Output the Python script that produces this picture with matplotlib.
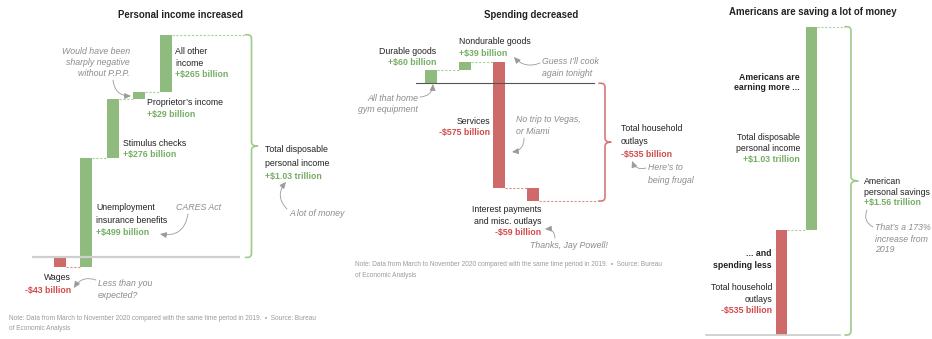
import matplotlib
matplotlib.use("Agg")
import matplotlib.pyplot as plt
import numpy as np
from matplotlib.path import Path
from matplotlib.patches import PathPatch, FancyArrowPatch

# ---- data (billions of dollars, March-November 2020 vs. same period 2019) ----
income_labels = ["Wages", "Unemployment insurance benefits", "Stimulus checks",
                 "Proprietor's income", "All other income"]
income_values = [-43, 499, 276, 29, 265]

spending_labels = ["Durable goods", "Nondurable goods", "Services",
                   "Interest payments and misc. outlays"]
spending_values = [60, 39, -575, -59]

savings_labels = ["Total household outlays", "Total disposable personal income"]
savings_values = [535, 1030]          # outlays cut, income gain
savings_total = 1.56                  # trillion

W, H, DPI = 932, 339, 100
plt.rcParams["font.family"] = ["Liberation Sans", "DejaVu Sans"]
fig = plt.figure(figsize=(W / DPI, H / DPI), dpi=DPI)
fig.patch.set_facecolor("white")

GREEN = "#8fbc7e"
RED = "#cf6a6b"
GREEN_TXT = "#74ad63"
RED_TXT = "#d2494c"
DARK = "#222222"
GRAY_TXT = "#8c8c8c"
NOTE_TXT = "#9a9a9a"
BRACE_G = "#9ccb8c"
BRACE_R = "#d9787a"
DOT_G = "#a9d09b"
DOT_R = "#e08c8d"

LABEL = 6.3
TITLE = 6.9
NOTE = 4.7


def make_axes(x0, dx, zero_y, scale):
    """Full-figure axes: category i sits at pixel x0 + i*dx, value 0 at zero_y."""
    ax = fig.add_axes([0, 0, 1, 1])
    ax.set_xlim(-x0 / dx, (W - x0) / dx)
    ax.set_ylim((zero_y - H) / scale, zero_y / scale)
    ax.axis("off")
    ax.patch.set_alpha(0)
    return ax


def brace(ax, x, top, bot, dx, scale, color, arm=6, r=4, tick=6):
    rx, ry, ax_, tx = r / dx, r / scale, arm / dx, tick / dx
    mid = (top + bot) / 2
    verts = [(x - ax_, top), (x - rx, top), (x, top), (x, top - ry),
             (x, mid + ry), (x, mid), (x + tx, mid), (x, mid), (x, mid - ry),
             (x, bot + ry), (x, bot), (x - rx, bot), (x - ax_, bot)]
    codes = [Path.MOVETO, Path.LINETO, Path.CURVE3, Path.CURVE3,
             Path.LINETO, Path.CURVE3, Path.CURVE3, Path.CURVE3, Path.CURVE3,
             Path.LINETO, Path.CURVE3, Path.CURVE3, Path.LINETO]
    ax.add_patch(PathPatch(Path(verts, codes), fill=False, ec=color, lw=1.2,
                           capstyle="round", joinstyle="round"))


def txt(x, y, s, ha="left", color=DARK, weight="normal", style="normal", size=LABEL):
    fig.text(x / W, 1 - y / H, s, ha=ha, va="center", color=color,
             fontweight=weight, fontstyle=style, fontsize=size)


def note(x, y, ha="left"):
    for i, s in enumerate(lines):
        txt(x, y + i * dy, s, ha=ha)


def block(x, y, rows, ha="left", dy=11.5, **kw):
    for i, row in enumerate(rows):
        if isinstance(row, tuple):
            s, extra = row
            txt(x, y + i * dy, s, ha=ha, **{**kw, **extra})
        else:
            txt(x, y + i * dy, row, ha=ha, **kw)


def arrow(p0, p1, rad, head=True):
    style = "-|>,head_length=0.55,head_width=0.25" if head else "-"
    a = FancyArrowPatch((p0[0] / W, 1 - p0[1] / H), (p1[0] / W, 1 - p1[1] / H),
                        transform=fig.transFigure,
                        connectionstyle=f"arc3,rad={rad}", arrowstyle=style,
                        mutation_scale=7, color="#9a9a9a", lw=0.6,
                        shrinkA=0, shrinkB=0)
    fig.add_artist(a)


def waterfall(ax, values, bar_px, dx, dots_to=None):
    values = np.asarray(values, dtype=float)
    ends = np.cumsum(values)
    starts = ends - values
    idx = np.arange(len(values))
    w = bar_px / dx
    colors = [GREEN if v > 0 else RED for v in values]
    ax.bar(idx, values, bottom=starts, width=w, color=colors, lw=0)
    for i in range(len(values) - 1):
        c = DOT_G if values[i] > 0 else DOT_R
        ax.plot([i + w / 2, i + 1 - w / 2], [ends[i]] * 2, color=c, lw=0.8,
                ls=(0, (2, 1.5)))
    if dots_to is not None:
        c = DOT_G if values[-1] > 0 else DOT_R
        ax.plot([idx[-1] + w / 2, dots_to], [ends[-1]] * 2, color=c, lw=0.8,
                ls=(0, (2, 1.5)))
    return ends


# ================= Panel 1: personal income =================
x0, dx, zy, sc = 60, 26.4, 257.4, 0.217
ax1 = make_axes(x0, dx, zy, sc)
px1 = lambda p: (p - x0) / dx
ends1 = waterfall(ax1, income_values, 12, dx, dots_to=px1(245))
ax1.plot([px1(32), px1(240)], [0, 0], color="#cfcfcf", lw=1.6, solid_capstyle="butt")
brace(ax1, px1(251.5), ends1[-1], 0, dx, sc, BRACE_G)

txt(181, 15, "Personal income increased", ha="center", weight="bold", size=TITLE)
block(175, 52, ["All other", "income", ("+$265 billion", dict(color=GREEN_TXT, weight="bold"))])
block(130, 51, ["Would have been", "sharply negative", "without P.P.P."], ha="right",
      color=GRAY_TXT, style="italic", dy=11.3)
arrow((113, 80), (131, 96), 0.45)
block(147, 103, ["Proprietor\u2019s income", ("+$29 billion", dict(color=GREEN_TXT, weight="bold"))], dy=12)
block(123, 143, ["Stimulus checks", ("+$276 billion", dict(color=GREEN_TXT, weight="bold"))], dy=12)
block(96, 208, ["Unemployment", "insurance benefits",
                ("+$499 billion", dict(color=GREEN_TXT, weight="bold"))], dy=12.5)
txt(199, 208, "CARES Act", ha="center", color=GRAY_TXT, style="italic")
arrow((188, 214), (160, 234), -0.5)
block(71, 278, ["Wages", ("-$43 billion", dict(color=RED_TXT, weight="bold"))], ha="right", dy=12)
block(98, 283, ["Less than you", "expected?"], color=GRAY_TXT, style="italic", dy=12)
arrow((96, 280), (74, 288), 0.4)
block(265, 150, ["Total disposable", "personal income",
                 ("+$1.03 trillion", dict(color=GREEN_TXT, weight="bold"))], dy=13)
txt(289, 213, "A lot of money", color=GRAY_TXT, style="italic")
arrow((287, 209), (286, 182), -0.45)
block(9, 318, ["Note: Data from March to November 2020 compared with the same time period in 2019.  \u2022  Source: Bureau",
               "of Economic Analysis"], color=NOTE_TXT, size=NOTE, dy=10.5)

# ================= Panel 2: spending =================
x0, dx, zy, sc = 430.8, 34.1, 83.3, 0.22
ax2 = make_axes(x0, dx, zy, sc)
px2 = lambda p: (p - x0) / dx
ends2 = waterfall(ax2, spending_values, 12, dx, dots_to=px2(600))
ax2.plot([px2(416), px2(594)], [0, 0], color="#555555", lw=0.8)
brace(ax2, px2(605), 0, ends2[-1], dx, sc, BRACE_R)

txt(531, 15, "Spending decreased", ha="center", weight="bold", size=TITLE)
block(436, 51, ["Durable goods", ("+$60 billion", dict(color=GREEN_TXT, weight="bold"))], ha="right", dy=11.5)
block(459, 42, ["Nondurable goods", ("+$39 billion", dict(color=GREEN_TXT, weight="bold"))], dy=11.5)
block(542, 62, ["Guess I\u2019ll cook", "again tonight"], color=GRAY_TXT, style="italic", dy=11.5)
arrow((540, 63), (514, 57), -0.35)
block(418, 98, ["All that home", "gym equipment"], ha="right", color=GRAY_TXT, style="italic", dy=11.5)
arrow((420, 97), (433, 84), 0.45)
block(490, 122, ["Services", ("-$575 billion", dict(color=RED_TXT, weight="bold"))], ha="right", dy=11)
block(516, 120, ["No trip to Vegas,", "or Miami"], color=GRAY_TXT, style="italic", dy=11.5)
arrow((524, 138), (512, 152), -0.45)
block(621, 129, ["Total household", "outlays",
                 ("-$535 billion", dict(color=RED_TXT, weight="bold"))], dy=12.5)
block(648, 168, ["Here\u2019s to", "being frugal"], color=GRAY_TXT, style="italic", dy=12)
arrow((646, 168), (632, 161), -0.45)
block(541, 210, ["Interest payments", "and misc. outlays",
                 ("-$59 billion", dict(color=RED_TXT, weight="bold"))], ha="right", dy=11)
txt(569, 246, "Thanks, Jay Powell!", ha="center", color=GRAY_TXT, style="italic")
arrow((555, 238), (545, 229), 0.5)
block(355, 265, ["Note: Data from March to November 2020 compared with the same time period in 2019.  \u2022  Source: Bureau",
                 "of Economic Analysis"], color=NOTE_TXT, size=NOTE, dy=10.5)

# ================= Panel 3: savings =================
x0, dx, zy, sc = 781.5, 30.0, 335.0, 0.197
ax3 = make_axes(x0, dx, zy, sc)
px3 = lambda p: (p - x0) / dx
w3 = 11.5 / dx
outlays, income = savings_values
ax3.bar([0, 1], [outlays, income], bottom=[0, outlays], width=w3,
        color=[RED, GREEN], lw=0)
top3 = outlays + income
ax3.plot([w3 / 2, 1 - w3 / 2], [outlays] * 2, color="#b9c9b0", lw=0.8, ls=(0, (2, 1.5)))
ax3.plot([1 + w3 / 2, px3(845)], [top3] * 2, color="#b9c9b0", lw=0.8, ls=(0, (2, 1.5)))
ax3.plot([px3(706), px3(840)], [0, 0], color="#cfcfcf", lw=1.3)
brace(ax3, px3(851), top3, 0, dx, sc, BRACE_G, tick=7)

txt(813, 12, "Americans are saving a lot of money", ha="center", weight="bold", size=TITLE)
block(800, 77, ["Americans are", "earning more ..."], ha="right", weight="bold", dy=11)
block(800, 137, ["Total disposable", "personal income",
                 ("+$%.2f trillion" % (income / 1000), dict(color=GREEN_TXT, weight="bold"))],
      ha="right", dy=11.2)
block(772, 254, ["... and", "spending less"], ha="right", weight="bold", dy=11)
block(772, 288, ["Total household", "outlays",
                 ("-$%d billion" % outlays, dict(color=RED_TXT, weight="bold"))], ha="right", dy=11.5)
block(864, 182, ["American", "personal savings",
                 ("+$%.2f trillion" % savings_total, dict(color=GREEN_TXT, weight="bold"))], dy=10.5)
block(875, 228, ["That\u2019s a 173%", "increase from", "2019"], color=GRAY_TXT, style="italic", dy=11)
arrow((873, 227), (867, 210), -0.45, head=False)

fig.savefig("out.png", dpi=DPI, facecolor="white")
